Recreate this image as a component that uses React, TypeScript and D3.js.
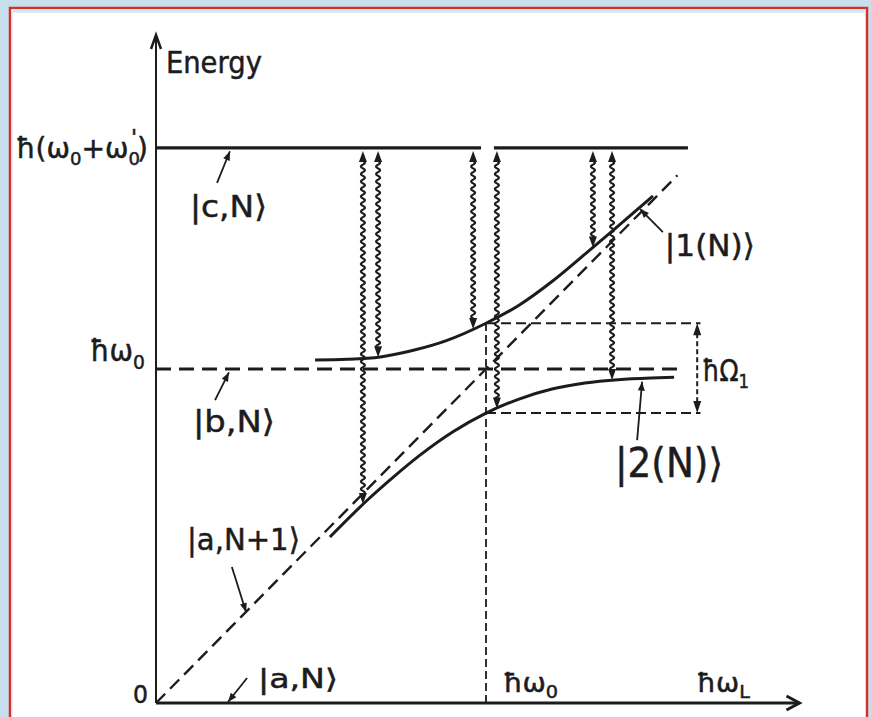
import React from 'react';
import * as d3 from 'd3';

const W = 871;
const H = 717;

// ---- data (x: ħωL in units of ħω0, y: energy in units of ħω0) ----
const levelC = 1.662;
const levelB = 1.0;
const resonance = 1.0;
const levelCSegments: [number, number][] = [[0, 0.985], [1.024, 1.612]];
const levelBExtent: [number, number] = [0, 1.59];
const bareDiagonal: [number, number][] = [[0, 0], [1.58, 1.58]];
const upperBranch: [number, number][] = [
  [0.482, 1.027], [0.58, 1.029], [0.68, 1.036], [0.78, 1.056], [0.88, 1.085],
  [1.0, 1.137], [1.1, 1.191], [1.2, 1.262], [1.3, 1.344], [1.4, 1.428], [1.506, 1.518],
];
const lowerBranch: [number, number][] = [
  [0.527, 0.497], [0.64, 0.607], [0.72, 0.677], [0.8, 0.742], [0.9, 0.812],
  [1.0, 0.868], [1.1, 0.91], [1.2, 0.94], [1.3, 0.958], [1.4, 0.968], [1.5, 0.973], [1.57, 0.975],
];
const splitTop = 1.137;
const splitBottom = 0.868;
const splitExtent = 1.65;
const splitArrowX = 1.64;
const transitionX = [0.627, 0.673, 0.961, 1.033, 1.324, 1.382];
const transitionLow = [0.596, 1.035, 1.12, 0.882, 1.364, 0.967];
const xAxisMax = 1.95;
const yAxisMax = 2.0;

const stateLabels = ['|c,N⟩', '|b,N⟩', '|a,N+1⟩', '|a,N⟩', '|1(N)⟩', '|2(N)⟩'];
const stateLabelPos: [number, number][] = [
  [0.103, 1.455], [0.112, 0.811], [0.094, 0.458], [0.309, 0.045], [1.542, 1.338], [1.391, 0.677],
];
const stateLabelSize = [31, 31, 31, 27, 31, 40];
const stateLabelWidth = [77, 82, 113, 80, 90, 108];
const pointerFrom: [number, number][] = [
  [0.185, 1.557], [0.179, 0.907], [0.23, 0.407], [0.276, 0.075], [1.536, 1.41], [1.458, 0.787],
];
const pointerTo: [number, number][] = [
  [0.224, 1.652], [0.221, 0.99], [0.273, 0.272], [0.218, 0.003], [1.467, 1.479], [1.473, 0.962],
];

const x = d3.scaleLinear().domain([0, 1]).range([156, 486]);
const y = d3.scaleLinear().domain([0, 1]).range([703, 369]);

const INK = '#1c1c1c';
const FONT = '"DejaVu Sans", sans-serif';

function head(tx: number, ty: number, fx: number, fy: number, len: number, hw: number) {
  const dx = tx - fx, dy = ty - fy;
  const n = Math.hypot(dx, dy) || 1;
  const ux = dx / n, uy = dy / n;
  const bx = tx - ux * len, by = ty - uy * len;
  return `M${tx},${ty}L${bx - uy * hw},${by + ux * hw}L${bx + uy * hw},${by - ux * hw}Z`;
}

function wavy(px: number, y0: number, y1: number) {
  const A = 2, L = 7.5;
  let d = `M${px},${y0}`;
  for (let yy = y0; yy <= y1; yy += 0.5) {
    d += `L${(px + A * Math.sin(((yy - y0) / L) * 2 * Math.PI)).toFixed(2)},${yy.toFixed(2)}`;
  }
  return d;
}

const textStyle = { fill: INK, stroke: INK, strokeWidth: 0.5 };

export default function App() {
  const line = d3.line<[number, number]>().x(d => x(d[0])).y(d => y(d[1])).curve(d3.curveMonotoneX);
  const straight = d3.line<[number, number]>().x(d => x(d[0])).y(d => y(d[1]));
  const topY = y(levelC) + 3;
  const HL = 11, HW = 4;

  return (
    <svg width={W} height={H} style={{ position: 'absolute', left: 0, top: 0, display: 'block' }}
      fontFamily={FONT}>
      <rect x={0} y={0} width={W} height={H} fill="#c8e0ed" />
      <rect x={10} y={8} width={857} height={730} fill="#ffffff" stroke="#d2302a" strokeWidth={2.5} />
      <line x1={11.5} y1={11} x2={865.5} y2={11} stroke="#d7e7f0" strokeWidth={3.5} />
      <line x1={12} y1={10} x2={12} y2={H} stroke="#d7e7f0" strokeWidth={1.5} />

      {/* axes */}
      <line x1={x(0)} y1={y(0)} x2={x(0)} y2={y(yAxisMax)} stroke={INK} strokeWidth={2} />
      <path d={`M${x(0) - 5},${y(yAxisMax) + 14}L${x(0)},${y(yAxisMax)}L${x(0) + 5},${y(yAxisMax) + 14}`}
        fill="none" stroke={INK} strokeWidth={2.5} />
      <line x1={x(0)} y1={y(0)} x2={x(xAxisMax)} y2={y(0)} stroke={INK} strokeWidth={3.2} />
      <path d={`M${x(xAxisMax) - 13},${y(0) - 7}L${x(xAxisMax)},${y(0)}L${x(xAxisMax) - 13},${y(0) + 7}`}
        fill="none" stroke={INK} strokeWidth={3} />

      {/* |c,N> level */}
      {levelCSegments.map((s, i) => (
        <line key={i} x1={x(s[0])} x2={x(s[1])} y1={y(levelC)} y2={y(levelC)} stroke={INK} strokeWidth={3.4} />
      ))}
      {/* |b,N> level */}
      <line x1={x(levelBExtent[0])} x2={x(levelBExtent[1])} y1={y(levelB)} y2={y(levelB)}
        stroke={INK} strokeWidth={2.8} strokeDasharray="15 8" />
      {/* |a,N+1> */}
      <path d={straight(bareDiagonal) || ''} fill="none" stroke={INK} strokeWidth={2.4} strokeDasharray="13 7" />

      {/* resonance guides */}
      <line x1={x(resonance)} x2={x(resonance)} y1={y(0)} y2={y(splitTop)} stroke={INK} strokeWidth={1.8} strokeDasharray="8 4" />
      <line x1={x(resonance)} x2={x(splitExtent)} y1={y(splitTop)} y2={y(splitTop)} stroke={INK} strokeWidth={2} strokeDasharray="10 5" />
      <line x1={x(resonance)} x2={x(splitExtent)} y1={y(splitBottom)} y2={y(splitBottom)} stroke={INK} strokeWidth={2} strokeDasharray="10 5" />
      <line x1={x(splitArrowX)} x2={x(splitArrowX)} y1={y(splitTop) + 10} y2={y(splitBottom) - 10} stroke={INK} strokeWidth={2} strokeDasharray="5 3" />
      <path d={head(x(splitArrowX), y(splitTop), x(splitArrowX), y(splitTop) + 20, 12, 4)} fill={INK} />
      <path d={head(x(splitArrowX), y(splitBottom), x(splitArrowX), y(splitBottom) - 20, 12, 4)} fill={INK} />

      {/* dressed branches */}
      <path d={line(upperBranch) || ''} fill="none" stroke={INK} strokeWidth={3} />
      <path d={line(lowerBranch) || ''} fill="none" stroke={INK} strokeWidth={3} />

      {/* transitions */}
      {transitionX.map((tx, i) => {
        const px = x(tx);
        const by = y(transitionLow[i]);
        return (
          <g key={i}>
            <path d={wavy(px, topY + HL - 1, by - HL + 1)} fill="none" stroke={INK} strokeWidth={2.1} />
            <path d={head(px, topY, px, topY + 20, HL, HW)} fill={INK} />
            <path d={head(px, by, px, by - 20, HL, HW)} fill={INK} />
          </g>
        );
      })}

      {/* pointers */}
      {pointerFrom.map((f, i) => {
        const t = pointerTo[i];
        return (
          <g key={i}>
            <line x1={x(f[0])} y1={y(f[1])} x2={x(t[0])} y2={y(t[1])} stroke={INK} strokeWidth={1.8} />
            <path d={head(x(t[0]), y(t[1]), x(f[0]), y(f[1]), 9, 3.5)} fill={INK} />
          </g>
        );
      })}

      {/* state labels */}
      {stateLabels.map((s, i) => (
        <text key={i} x={x(stateLabelPos[i][0])} y={y(stateLabelPos[i][1])} fontSize={stateLabelSize[i]}
          {...textStyle} textLength={stateLabelWidth[i]} lengthAdjust="spacingAndGlyphs">{s}</text>
      ))}

      {/* axis labels */}
      <text x={x(0.03)} y={y(1.886)} fontSize={30} {...textStyle} textLength={96} lengthAdjust="spacingAndGlyphs">Energy</text>
      <text x={16} y={y(levelC) + 10} fontSize={28} {...textStyle} textLength={132} lengthAdjust="spacingAndGlyphs">
        ħ(ω<tspan dy={7} fontSize={18}>0</tspan><tspan dy={-7}>+ω</tspan><tspan dy={7} fontSize={18}>0</tspan>
        <tspan dx={-9} dy={-20} fontSize={22}>'</tspan><tspan dy={13}>)</tspan>
      </text>
      <text x={90} y={y(levelB) - 8} fontSize={30} {...textStyle} textLength={55} lengthAdjust="spacingAndGlyphs">
        ħω<tspan dy={8} fontSize={20}>0</tspan>
      </text>
      <text x={x(0) - 23} y={y(0)} fontSize={24} {...textStyle} textLength={15} lengthAdjust="spacingAndGlyphs">0</text>
      <text x={x(1.052)} y={y(0.033)} fontSize={26} {...textStyle} textLength={55} lengthAdjust="spacingAndGlyphs">
        ħω<tspan dy={6} fontSize={18}>0</tspan>
      </text>
      <text x={x(1.639)} y={y(0.033)} fontSize={26} {...textStyle} textLength={53} lengthAdjust="spacingAndGlyphs">
        ħω<tspan dy={6} fontSize={18}>L</tspan>
      </text>
      <text x={x(1.655)} y={y(0.964)} fontSize={30} {...textStyle} textLength={47} lengthAdjust="spacingAndGlyphs">
        ħΩ<tspan dy={7} fontSize={20}>1</tspan>
      </text>
    </svg>
  );
}
